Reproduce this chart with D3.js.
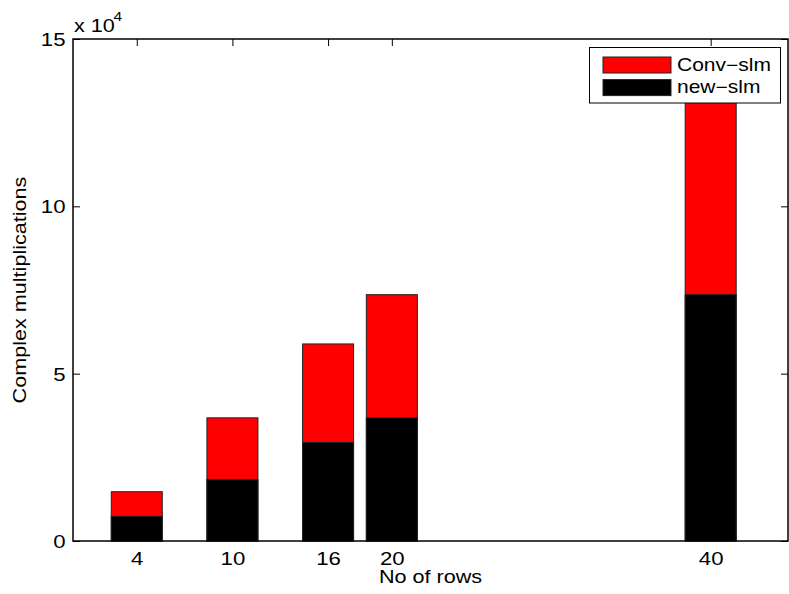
<!DOCTYPE html>
<html>
<head>
<meta charset="utf-8">
<script src="https://cdn.jsdelivr.net/npm/d3@7/dist/d3.min.js"></script>
<style>
  html, body { margin: 0; padding: 0; background: #fff; }
  svg { display: block; }
  text { font-family: "Liberation Sans", Arial, Helvetica, sans-serif; fill: #000; }
</style>
</head>
<body>
<svg id="chart" width="789" height="594"></svg>
<script>
// Number of rows per configuration (x positions of the bars)
const rows = [4, 10, 16, 20, 40];
// Complex multiplications, conventional SLM
const convSlm = [14720, 36800, 58880, 73600, 147200];
// Complex multiplications, new SLM
const newSlm = [7360, 18400, 29440, 36800, 73600];
// Axis ticks
const xTicks = [4, 10, 16, 20, 40];
const yTicks = [0, 50000, 100000, 150000];
const seriesNames = ["Conv\u2212slm", "new\u2212slm"];
const seriesColors = ["#ff0000", "#000000"];

const W = 789, H = 594;
const margin = { top: 39, right: 1, bottom: 53, left: 73 };
const iw = W - margin.left - margin.right;
const ih = H - margin.top - margin.bottom;
const SX = 1.2; // horizontal text stretch

const svg = d3.select("#chart");
const g = svg.append("g").attr("transform", `translate(${margin.left},${margin.top})`);

const x = d3.scaleLinear().domain([0, 44.85]).range([0, iw]);
const y = d3.scaleLinear().domain([0, 150000]).range([ih, 0]);
const barW = x(3.2) - x(0);

// Bars: the conventional total first, the new-slm count drawn over it
const data = rows.map((r, i) => ({ r, conv: convSlm[i], nw: newSlm[i] }));
g.selectAll("rect.conv").data(data).enter().append("rect")
  .attr("class", "conv")
  .attr("x", d => x(d.r) - barW / 2)
  .attr("y", d => y(d.conv))
  .attr("width", barW)
  .attr("height", d => y(0) - y(d.conv))
  .attr("fill", seriesColors[0])
  .attr("stroke", "#222").attr("stroke-width", 1);
g.selectAll("rect.new").data(data).enter().append("rect")
  .attr("class", "new")
  .attr("x", d => x(d.r) - barW / 2)
  .attr("y", d => y(d.nw))
  .attr("width", barW)
  .attr("height", d => y(0) - y(d.nw))
  .attr("fill", seriesColors[1])
  .attr("stroke", "#222").attr("stroke-width", 1);

// Axes (ticks point inward, mirrored on all four sides)
const tl = 7;
function stretchText(sel) {
  sel.selectAll("text").each(function () {
    const t = d3.select(this);
    const xv = +t.attr("x") || 0;
    t.attr("x", xv / SX).attr("transform", `scale(${SX},1)`);
  });
}
const xAxis = g.append("g").attr("transform", `translate(0,${ih})`)
  .call(d3.axisBottom(x).tickValues(xTicks).tickSize(-tl).tickPadding(11).tickSizeOuter(0));
const yAxis = g.append("g")
  .call(d3.axisLeft(y).tickValues(yTicks).tickSize(-tl).tickPadding(7.5).tickSizeOuter(0)
    .tickFormat(d => d / 10000));
g.append("g")
  .call(d3.axisTop(x).tickValues(xTicks).tickSize(-tl).tickFormat("").tickSizeOuter(0));
g.append("g").attr("transform", `translate(${iw},0)`)
  .call(d3.axisRight(y).tickValues(yTicks).tickSize(-tl).tickFormat("").tickSizeOuter(0));
g.selectAll(".domain").remove();
g.selectAll(".tick line").attr("stroke", "#000").attr("stroke-width", 1);
g.selectAll(".tick text").attr("font-size", 18.5).attr("font-family", null);
stretchText(xAxis);
stretchText(yAxis);
yAxis.selectAll("text").attr("dy", "0.36em");
xAxis.selectAll("text").attr("dy", "0.71em");

// Box
g.append("rect").attr("x", 0).attr("y", 0).attr("width", iw).attr("height", ih)
  .attr("fill", "none").attr("stroke", "#000").attr("stroke-width", 1.5);

// Exponent marker
const ex = svg.append("text").attr("transform", `translate(74,31.5) scale(${SX},1)`)
  .attr("font-size", 18);
ex.append("tspan").text("x 10");
ex.append("tspan").attr("font-size", 13).attr("dy", -11).attr("dx", -1).text("4");

// Axis titles
svg.append("text")
  .attr("transform", `translate(${margin.left + iw / 2},583) scale(${SX},1)`)
  .attr("text-anchor", "middle").attr("font-size", 18).text("No of rows");
svg.append("text")
  .attr("transform", `translate(25.5,${margin.top + ih / 2}) rotate(-90) scale(${SX},1)`)
  .attr("text-anchor", "middle").attr("font-size", 18).text("Complex multiplications");

// Legend
const lg = svg.append("g");
lg.append("rect").attr("x", 589.5).attr("y", 47.5).attr("width", 191).attr("height", 55.5)
  .attr("fill", "#fff").attr("stroke", "#000").attr("stroke-width", 1);
seriesNames.forEach((name, i) => {
  const yy = 57 + i * 22.6;
  lg.append("rect").attr("x", 603).attr("y", yy).attr("width", 68).attr("height", 16)
    .attr("fill", seriesColors[i]).attr("stroke", "#222").attr("stroke-width", 1);
  lg.append("text").attr("transform", `translate(677,${yy + 13.8}) scale(${SX},1)`)
    .attr("font-size", 17.5).text(name);
});
</script>
</body>
</html>
